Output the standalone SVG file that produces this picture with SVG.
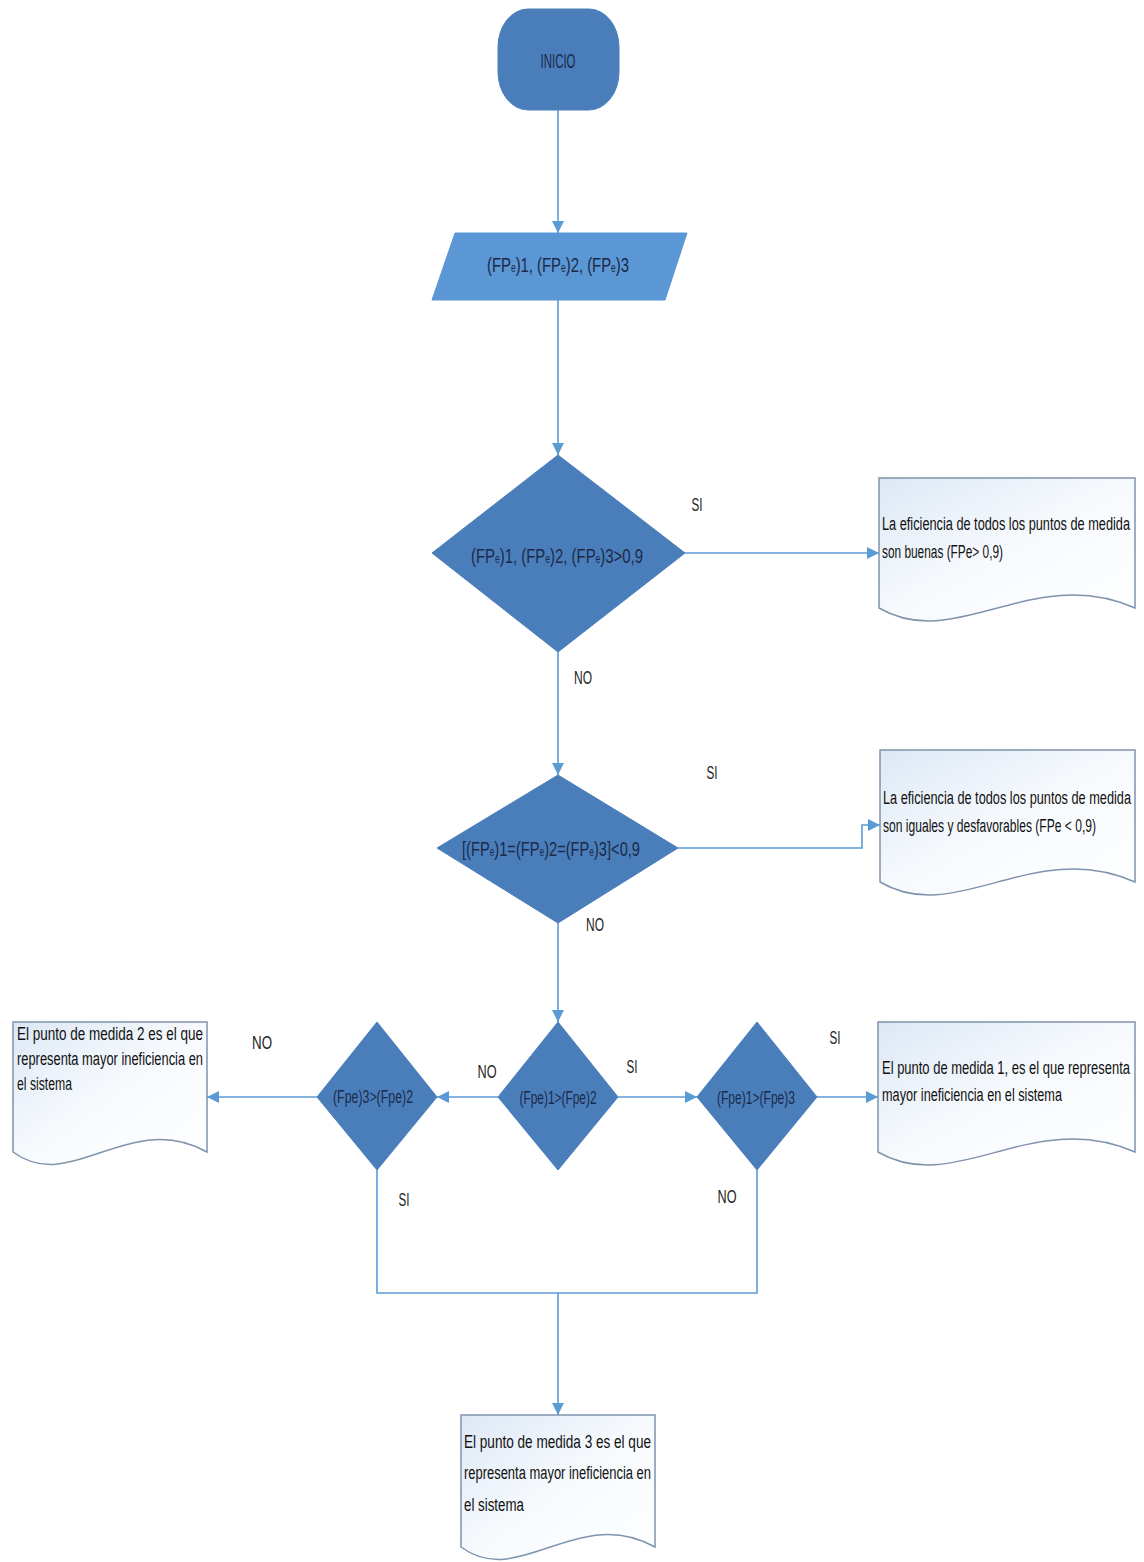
<svg xmlns="http://www.w3.org/2000/svg" width="1144" height="1562" viewBox="0 0 1144 1562">
<style>
.shape{fill:#4a7ebb;stroke:#4a7ebb;stroke-width:1}
.io{fill:#5b96d5;stroke:#5b96d5;stroke-width:1}
.doc{fill:url(#docg);stroke:#7f93ad;stroke-width:1.5}
.st{font-family:"Liberation Sans",Arial,sans-serif;fill:#1c2a48;text-anchor:middle;dominant-baseline:central}
.dt{font-family:"Liberation Sans",Arial,sans-serif;fill:#111;font-size:18px;dominant-baseline:central}
.lb{font-family:"Liberation Sans",Arial,sans-serif;fill:#222;font-size:18px;text-anchor:middle;dominant-baseline:central}
.cn{fill:none;stroke:#5b9bd5;stroke-width:1.6}
.sub{font-size:12px}
</style>
<defs>
<linearGradient id="docg" x1="0" y1="0" x2="1" y2="1">
<stop offset="0" stop-color="#dde8f5"/>
<stop offset="0.5" stop-color="#f7fafd"/>
<stop offset="1" stop-color="#ffffff"/>
</linearGradient>
<marker id="ah" viewBox="0 0 12 12" refX="12" refY="6" markerWidth="12" markerHeight="12" markerUnits="userSpaceOnUse" orient="auto">
<path d="M0,0 L12,6 L0,12 z" fill="#5b9bd5"/>
</marker>
</defs>
<rect width="1144" height="1562" fill="#ffffff"/>

<g id="connectors">
<path class="cn" d="M558,110 V233" marker-end="url(#ah)"/>
<path class="cn" d="M558,300 V455" marker-end="url(#ah)"/>
<path class="cn" d="M685,553 H879" marker-end="url(#ah)"/>
<path class="cn" d="M558,652 V775" marker-end="url(#ah)"/>
<path class="cn" d="M678,848 H862 V825 H880" marker-end="url(#ah)"/>
<path class="cn" d="M558,923 V1022" marker-end="url(#ah)"/>
<path class="cn" d="M618,1097 H697" marker-end="url(#ah)"/>
<path class="cn" d="M817,1097 H878" marker-end="url(#ah)"/>
<path class="cn" d="M498,1097 H437" marker-end="url(#ah)"/>
<path class="cn" d="M317,1097 H207" marker-end="url(#ah)"/>
<path class="cn" d="M377,1170 V1293 H757 V1170"/>
<path class="cn" d="M558,1293 V1415" marker-end="url(#ah)"/>
<text class="lb" x="697" y="505" textLength="11" lengthAdjust="spacingAndGlyphs">SI</text>
<text class="lb" x="583" y="678" textLength="18" lengthAdjust="spacingAndGlyphs">NO</text>
<text class="lb" x="712" y="773" textLength="11" lengthAdjust="spacingAndGlyphs">SI</text>
<text class="lb" x="595" y="925" textLength="18" lengthAdjust="spacingAndGlyphs">NO</text>
<text class="lb" x="487" y="1072" textLength="19" lengthAdjust="spacingAndGlyphs">NO</text>
<text class="lb" x="632" y="1067" textLength="11" lengthAdjust="spacingAndGlyphs">SI</text>
<text class="lb" x="835" y="1038" textLength="11" lengthAdjust="spacingAndGlyphs">SI</text>
<text class="lb" x="727" y="1197" textLength="19" lengthAdjust="spacingAndGlyphs">NO</text>
<text class="lb" x="262" y="1043" textLength="20" lengthAdjust="spacingAndGlyphs">NO</text>
<text class="lb" x="404" y="1200" textLength="11" lengthAdjust="spacingAndGlyphs">SI</text>
</g>

<g id="inicio">
<rect class="shape" x="498" y="9" width="121" height="101" rx="30" ry="38"/>
<text class="st" x="558" y="61" font-size="20" textLength="35" lengthAdjust="spacingAndGlyphs">INICIO</text>
</g>

<g id="entrada">
<polygon class="io" points="455,233 687,233 665,300 432,300"/>
<text class="st" x="558" y="264" font-size="21" textLength="142" lengthAdjust="spacingAndGlyphs">(FP<tspan class="sub" baseline-shift="-4">e</tspan>)1, (FP<tspan class="sub" baseline-shift="-4">e</tspan>)2, (FP<tspan class="sub" baseline-shift="-4">e</tspan>)3</text>
</g>

<g id="decision1">
<polygon class="shape" points="558,455 685,553 558,652 432,553"/>
<text class="st" x="557" y="555" font-size="21" textLength="172" lengthAdjust="spacingAndGlyphs">(FP<tspan class="sub" baseline-shift="-4">e</tspan>)1, (FP<tspan class="sub" baseline-shift="-4">e</tspan>)2, (FP<tspan class="sub" baseline-shift="-4">e</tspan>)3&gt;0,9</text>
</g>

<g id="doc1">
<path class="doc" d="M879,478 H1135 V608 C1033,563 956,653 879,608 Z"/>
<text class="dt" x="882" y="524" textLength="248" lengthAdjust="spacingAndGlyphs">La eficiencia de todos los puntos de medida</text>
<text class="dt" x="882" y="552" textLength="121" lengthAdjust="spacingAndGlyphs">son buenas (FPe&gt; 0,9)</text>
</g>

<g id="decision2">
<polygon class="shape" points="558,775 678,848 558,923 437,848"/>
<text class="st" x="551" y="848" font-size="21" textLength="178" lengthAdjust="spacingAndGlyphs">[(FP<tspan class="sub" baseline-shift="-4">e</tspan>)1=(FP<tspan class="sub" baseline-shift="-4">e</tspan>)2=(FP<tspan class="sub" baseline-shift="-4">e</tspan>)3]&lt;0,9</text>
</g>

<g id="doc2">
<path class="doc" d="M880,750 H1135 V882 C1033,837 956,927 880,882 Z"/>
<text class="dt" x="883" y="798" textLength="248" lengthAdjust="spacingAndGlyphs">La eficiencia de todos los puntos de medida</text>
<text class="dt" x="883" y="826" textLength="213" lengthAdjust="spacingAndGlyphs">son iguales y desfavorables (FPe &lt; 0,9)</text>
</g>

<g id="decision3">
<polygon class="shape" points="558,1022 618,1097 558,1170 498,1097"/>
<text class="st" x="558" y="1098" font-size="18" textLength="77" lengthAdjust="spacingAndGlyphs">(Fpe)1&gt;(Fpe)2</text>
</g>

<g id="decision4">
<polygon class="shape" points="757,1022 817,1097 757,1170 697,1097"/>
<text class="st" x="756" y="1098" font-size="18" textLength="78" lengthAdjust="spacingAndGlyphs">(Fpe)1&gt;(Fpe)3</text>
</g>

<g id="decision5">
<polygon class="shape" points="377,1022 437,1097 377,1170 317,1097"/>
<text class="st" x="373" y="1097" font-size="18" textLength="80" lengthAdjust="spacingAndGlyphs">(Fpe)3&gt;(Fpe)2</text>
</g>

<g id="doc3">
<path class="doc" d="M13,1022 H207 V1152 C129,1109 71,1195 13,1152 Z"/>
<text class="dt" x="17" y="1034" textLength="186" lengthAdjust="spacingAndGlyphs">El punto de medida 2 es el que</text>
<text class="dt" x="17" y="1059" textLength="186" lengthAdjust="spacingAndGlyphs">representa mayor ineficiencia en</text>
<text class="dt" x="17" y="1084" textLength="55" lengthAdjust="spacingAndGlyphs">el  sistema</text>
</g>

<g id="doc4">
<path class="doc" d="M878,1022 H1135 V1152 C1032,1107 955,1197 878,1152 Z"/>
<text class="dt" x="882" y="1068" textLength="248" lengthAdjust="spacingAndGlyphs">El punto de medida 1, es el que representa</text>
<text class="dt" x="882" y="1095" textLength="180" lengthAdjust="spacingAndGlyphs">mayor ineficiencia en el  sistema</text>
</g>

<g id="doc5">
<path class="doc" d="M461,1415 H655 V1547 C577,1504 519,1590 461,1547 Z"/>
<text class="dt" x="464" y="1442" textLength="187" lengthAdjust="spacingAndGlyphs">El punto de medida 3 es el que</text>
<text class="dt" x="464" y="1473" textLength="187" lengthAdjust="spacingAndGlyphs">representa mayor ineficiencia en</text>
<text class="dt" x="464" y="1505" textLength="60" lengthAdjust="spacingAndGlyphs">el  sistema</text>
</g>

</svg>
